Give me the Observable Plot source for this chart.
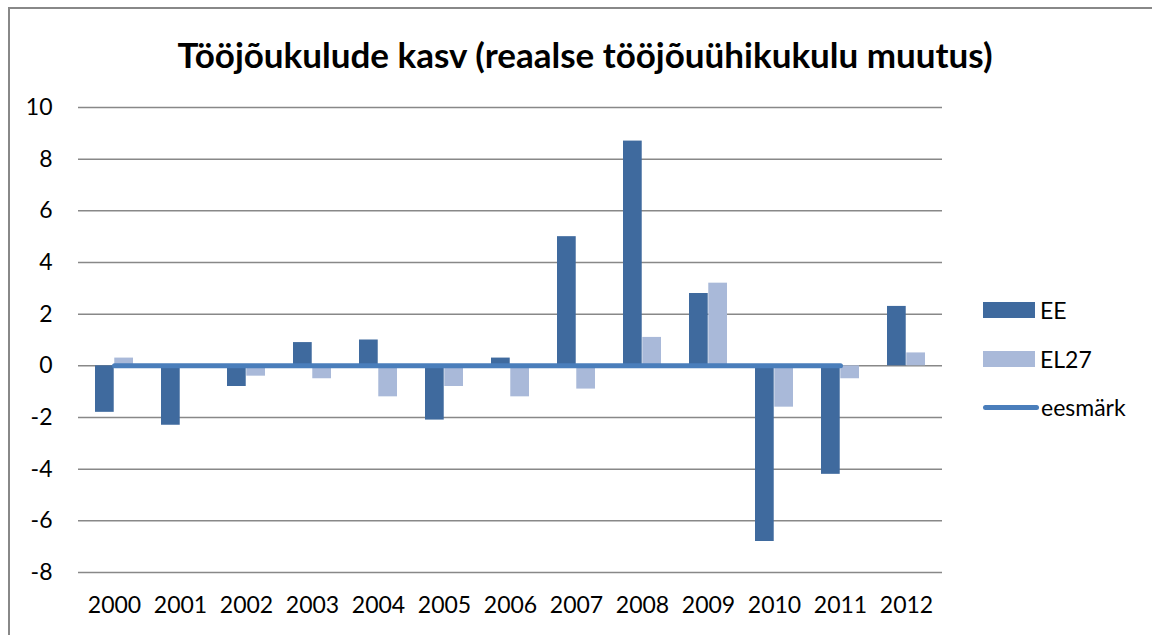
<!DOCTYPE html>
<html>
<head>
<meta charset="utf-8">
<script src="https://cdn.jsdelivr.net/npm/d3@7"></script>
<script src="https://cdn.jsdelivr.net/npm/@observablehq/plot@0.6"></script>
<style>
  html, body { margin: 0; padding: 0; background: #fff; }
  #wrap { position: relative; width: 1152px; height: 635px; overflow: hidden; font-family: Lato, "Open Sans", sans-serif; }
  #frame { position: absolute; left: 8px; top: 7px; width: 1200px; height: 700px; border-top: 2px solid #888; border-left: 2px solid #888; box-sizing: border-box; }
  #title { position: absolute; left: 0; top: 37px; width: 1170px; text-align: center; font-size: 35px; font-weight: 700; color: #000; line-height: 1; }
  #chart { position: absolute; left: 0; top: 90px; }
  .leg { position: absolute; left: 983px; display: flex; align-items: center; font-size: 23px; color: #000; }
  .sw { width: 52px; height: 16px; margin-right: 5px; }
  .ln { width: 56px; height: 5px; border-radius: 3px; margin-right: 2px; background: #4A7EBB; }
</style>
</head>
<body>
<div id="wrap">
  <div id="frame"></div>
  <div id="title">Tööjõukulude kasv (reaalse tööjõuühikukulu muutus)</div>
  <div id="chart"></div>
  <div class="leg" style="top:296px"><div class="sw" style="background:#3F6A9E"></div>EE</div>
  <div class="leg" style="top:345px"><div class="sw" style="background:#A9B9D9"></div>EL27</div>
  <div class="leg" style="top:393px"><div class="ln"></div>eesmärk</div>
</div>
<script>
const years = ["2000","2001","2002","2003","2004","2005","2006","2007","2008","2009","2010","2011","2012"];
const EE    = [-1.8, -2.3, -0.8, 0.9, 1.0, -2.1, 0.3, 5.0, 8.7, 2.8, -6.8, -4.2, 2.3];
const EL27  = [0.3, 0.0, -0.4, -0.5, -1.2, -0.8, -1.2, -0.9, 1.1, 3.2, -1.6, -0.5, 0.5];
const eesmark = [0, 0, 0, 0, 0, 0, 0, 0, 0, 0, 0, 0, null];
const yTicks = [-8, -6, -4, -2, 0, 2, 4, 6, 8, 10];

const W = 1152, H = 545;
const mL = 78, mR = 210, mT = 17, mB = 63;
const pad = 0.42;
const step = (W - mL - mR) / years.length;
const half = step * (1 - pad) / 2;

const ee = years.map((y, i) => ({year: y, v: EE[i]}));
const el = years.map((y, i) => ({year: y, v: EL27[i]}));
const goal = years.map((y, i) => ({year: y, v: eesmark[i]})).filter(d => d.v !== null);

const chart = Plot.plot({
  width: W, height: H,
  marginLeft: mL, marginRight: mR, marginTop: mT, marginBottom: mB,
  style: {fontFamily: "Lato, 'Open Sans', sans-serif", fontSize: "23px", color: "#000", background: "transparent"},
  x: {type: "band", domain: years, paddingInner: pad, paddingOuter: pad / 2, label: null},
  y: {domain: [-8, 10], ticks: yTicks, label: null},
  marks: [
    Plot.ruleY(yTicks, {stroke: "#888", strokeWidth: 1.5}),
    Plot.ruleX([0], {x: () => mL, stroke: "#888", strokeWidth: 1.5}),
    Plot.barY(ee, {x: "year", y: "v", fill: "#3F6A9E", insetRight: half, insetLeft: 0}),
    Plot.barY(el, {x: "year", y: "v", fill: "#A9B9D9", insetLeft: half, insetRight: 0}),
    Plot.lineY(goal, {x: "year", y: "v", stroke: "#4A7EBB", strokeWidth: 5, strokeLinecap: "round"}),
    Plot.axisY({ticks: yTicks, tickSize: 0, tickPadding: 26, fontSize: 23, fill: "#000", tickFormat: d => String(d)}),
    Plot.axisX({tickSize: 0, tickPadding: 24, fontSize: 23, fill: "#000"})
  ]
});
document.getElementById("chart").appendChild(chart);
</script>
</body>
</html>
